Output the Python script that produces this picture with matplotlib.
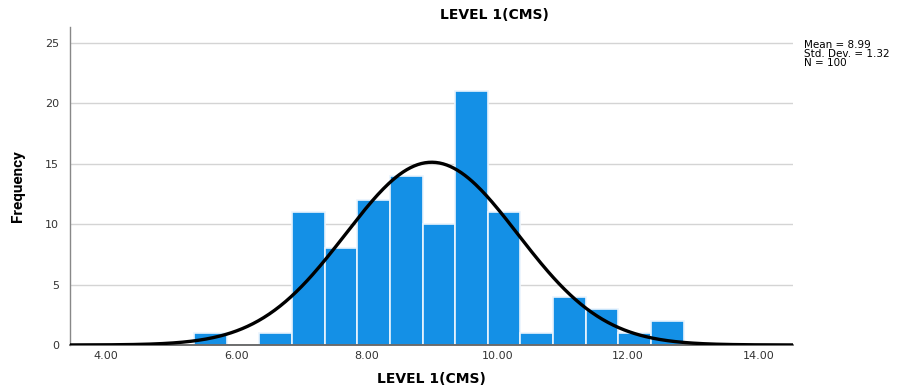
import numpy as np
import matplotlib.pyplot as plt

# Histogram data (bin width 0.5)
bin_edges = [5.35, 5.85, 6.35, 6.85, 7.35, 7.85, 8.35, 8.85, 9.35, 9.85,
             10.35, 10.85, 11.35, 11.85, 12.35, 12.85]
counts = [1, 0, 1, 11, 8, 12, 14, 10, 21, 11, 1, 4, 3, 1, 2]

mean = 8.99
std_dev = 1.32
n_total = 100

x_ticks = [4, 6, 8, 10, 12, 14]
x_tick_labels = ["4.00", "6.00", "8.00", "10.00", "12.00", "14.00"]
y_ticks = [0, 5, 10, 15, 20, 25]

BAR_COLOR = "#1490e6"

fig = plt.figure(figsize=(9.09, 3.85), dpi=100)
ax = fig.add_axes([0.077, 0.104, 0.795, 0.826])

lefts = np.array(bin_edges[:-1])
widths = np.diff(bin_edges)
ax.bar(lefts, counts, width=widths, align="edge", color=BAR_COLOR,
       edgecolor="#eaf4fd", linewidth=1.2, zorder=2)

# Normal curve scaled to counts
xlim = (3.45, 14.52)
xs = np.linspace(xlim[0], xlim[1], 400)
bw = widths[0]
pdf = np.exp(-0.5 * ((xs - mean) / std_dev) ** 2) / (std_dev * np.sqrt(2 * np.pi))
ax.plot(xs, pdf * n_total * bw, color="black", linewidth=2.4, zorder=3)

ax.set_xlim(*xlim)
ax.set_ylim(0, 26.3)
ax.set_xticks(x_ticks)
ax.set_xticklabels(x_tick_labels)
ax.set_yticks(y_ticks)
ax.yaxis.grid(True, color="#d4d4d4", linewidth=1.0, zorder=0)
ax.set_axisbelow(True)
ax.tick_params(length=0, labelsize=8, colors="#333333")
ax.tick_params(axis="y", pad=8)
ax.tick_params(axis="x", pad=4)

for side in ["top", "right"]:
    ax.spines[side].set_visible(False)
ax.spines["left"].set_color("#888888")
ax.spines["bottom"].set_color("#555555")
ax.spines["left"].set_linewidth(1.0)
ax.spines["bottom"].set_linewidth(1.2)

ax.set_xlabel("LEVEL 1(CMS)", fontsize=10, fontweight="bold", labelpad=8)
ax.set_ylabel("Frequency", fontsize=11, fontweight="bold",
              family=["Roboto", "DejaVu Sans"], labelpad=14)

fig.text(494 / 909, 1 - 15 / 385, "LEVEL 1(CMS)", fontsize=10,
         fontweight="bold", ha="center", va="center")
fig.text(804 / 909, 1 - 40 / 385,
         f"Mean = {mean:.2f}\nStd. Dev. = {std_dev:.2f}\nN = {n_total}",
         fontsize=7.5, ha="left", va="top", linespacing=0.85)

fig.savefig("out.png", dpi=100)
